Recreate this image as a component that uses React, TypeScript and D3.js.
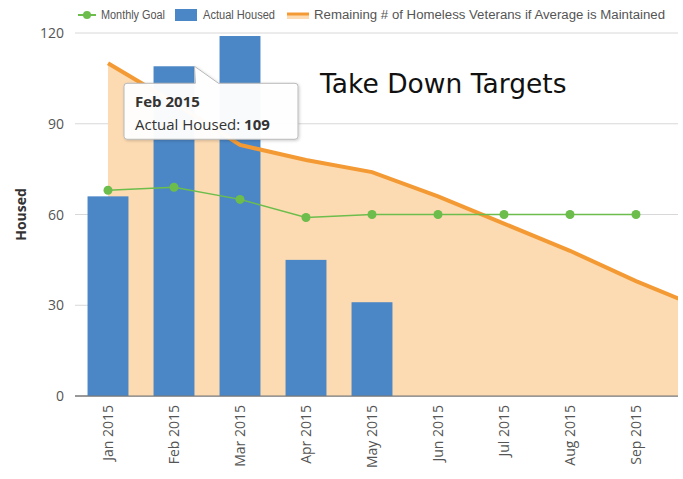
import React from 'react';
import * as d3 from 'd3';

// chart data
const months = ['Jan 2015', 'Feb 2015', 'Mar 2015', 'Apr 2015', 'May 2015', 'Jun 2015', 'Jul 2015', 'Aug 2015', 'Sep 2015'];
const monthlyGoal = [68, 69, 65, 59, 60, 60, 60, 60, 60];
const actualHoused = [66, 109, 119, 45, 31];
// projection runs one month past the last label, clipped at the plot edge
const remaining = [110, 97, 83, 78, 74, 66, 57, 48, 38, 29];
const yTicks = [0, 30, 60, 90, 120];
const hovered = 1; // Feb 2015

const W = 683;
const H = 479;
const margin = { top: 33, right: 5, bottom: 83, left: 75 };

const BLUE = '#4b87c6';
const GREEN = '#6cbd4c';
const ORANGE = '#f49a34';
const PEACH = '#fddbb2';

export default function App(): JSX.Element {
  const plotW = W - margin.left - margin.right;
  const plotH = H - margin.top - margin.bottom;

  const x = d3
    .scaleBand<string>()
    .domain(months)
    .range([margin.left, margin.left + 66 * months.length])
    .paddingInner(0.38)
    .paddingOuter(0.19);
  const y = d3.scaleLinear().domain([0, 120]).range([margin.top + plotH, margin.top]);

  const cx = (i: number) => (x(months[0]) || 0) + x.bandwidth() / 2 + i * x.step();

  const area = d3
    .area<number>()
    .x((_, i) => cx(i))
    .y0(y(0))
    .y1((d) => y(d));
  const line = d3
    .line<number>()
    .x((_, i) => cx(i))
    .y((d) => y(d));

  // tooltip anchored to the hovered bar
  const tipX = (x(months[hovered]) || 0) + x.bandwidth();
  const tipY = y(actualHoused[hovered]);
  const bx = 124;
  const by = tipY + 17;
  const bw = 174;
  const bh = 56;
  const tipPath = `M${bx + 3},${by} L${tipX + 1},${by} L${tipX},${tipY} L${tipX + 24},${by} L${bx + bw - 3},${by} Q${bx + bw},${by} ${bx + bw},${by + 3} L${bx + bw},${by + bh - 3} Q${bx + bw},${by + bh} ${bx + bw - 3},${by + bh} L${bx + 3},${by + bh} Q${bx},${by + bh} ${bx},${by + bh - 3} L${bx},${by + 3} Q${bx},${by} ${bx + 3},${by} Z`;

  const legendFont = "'Liberation Sans', Arial, sans-serif";
  const font = "'Open Sans', sans-serif";

  return (
    <svg width={W} height={H} style={{ position: 'absolute', left: 0, top: 0, background: 'white' }}>
      <defs>
        <clipPath id="plot">
          <rect x={margin.left} y={0} width={plotW} height={margin.top + plotH} />
        </clipPath>
        <filter id="shadow" x="-10%" y="-10%" width="130%" height="150%">
          <feDropShadow dx="1" dy="1" stdDeviation="1.5" floodColor="#000" floodOpacity="0.2" />
        </filter>
      </defs>

      {/* legend */}
      <g fontFamily={legendFont} fontSize={12.5} fill="#555">
        <line x1={78} x2={96} y1={15} y2={15} stroke={GREEN} strokeWidth={2} />
        <circle cx={87} cy={15} r={4} fill={GREEN} />
        <text x={101} y={19} textLength={64} lengthAdjust="spacingAndGlyphs">Monthly Goal</text>
        <rect x={175} y={9} width={22} height={12} fill={BLUE} />
        <text x={203} y={19} textLength={72} lengthAdjust="spacingAndGlyphs">Actual Housed</text>
        <rect x={287} y={13} width={22} height={6} fill={PEACH} />
        <line x1={287} x2={309} y1={14} y2={14} stroke={ORANGE} strokeWidth={3} />
        <text x={314} y={19} textLength={351} lengthAdjust="spacingAndGlyphs">
          Remaining # of Homeless Veterans if Average is Maintained
        </text>
      </g>

      {/* grid */}
      {yTicks.map((t) => (
        <g key={t}>
          <line
            x1={margin.left}
            x2={margin.left + plotW}
            y1={y(t)}
            y2={y(t)}
            stroke={t === 0 ? '#777' : '#d8d8d8'}
            strokeWidth={1}
          />
          <text x={64} y={y(t) + 5} textAnchor="end" fontFamily={font} fontSize={14} fill="#555">
            {t}
          </text>
        </g>
      ))}

      <text
        transform={`translate(26,${margin.top + plotH / 2}) rotate(-90)`}
        textAnchor="middle"
        fontFamily={font}
        fontSize={14}
        fontWeight="bold"
        fill="#333"
      >
        Housed
      </text>

      <g clipPath="url(#plot)">
        <path d={area(remaining) || ''} fill={PEACH} />
        {actualHoused.map((v, i) => (
          <rect
            key={months[i]}
            x={x(months[i]) || 0}
            y={y(v)}
            width={x.bandwidth()}
            height={y(0) - y(v)}
            fill={BLUE}
          />
        ))}
        <path d={line(remaining) || ''} fill="none" stroke={ORANGE} strokeWidth={4} />
        <path d={line(monthlyGoal) || ''} fill="none" stroke={GREEN} strokeWidth={1.5} />
        {monthlyGoal.map((v, i) => (
          <circle key={i} cx={cx(i)} cy={y(v)} r={4.5} fill={GREEN} />
        ))}
      </g>

      <line x1={margin.left} x2={margin.left + plotW} y1={y(0)} y2={y(0)} stroke="#777" />

      {/* x labels */}
      {months.map((m, i) => (
        <text
          key={m}
          transform={`translate(${cx(i) + 5},${y(0) + 9}) rotate(-90)`}
          textAnchor="end"
          fontFamily={font}
          fontSize={14}
          fill="#555"
        >
          {m}
        </text>
      ))}

      <text x={320} y={93} fontFamily="'DejaVu Sans', sans-serif" fontSize={26.5} fill="#111">
        Take Down Targets
      </text>

      {/* tooltip */}
      <g>
        <path d={tipPath} fill="white" fillOpacity={0.96} stroke="#b8b8b8" strokeWidth={1} filter="url(#shadow)" />
        <text x={bx + 11} y={by + 24} fontFamily={font} fontSize={15} fontWeight="bold" fill="#333">
          {months[hovered]}
        </text>
        <text x={bx + 11} y={by + 47} fontFamily={font} fontSize={15} fill="#333">
          Actual Housed: <tspan fontWeight="bold">{actualHoused[hovered]}</tspan>
        </text>
      </g>
    </svg>
  );
}
